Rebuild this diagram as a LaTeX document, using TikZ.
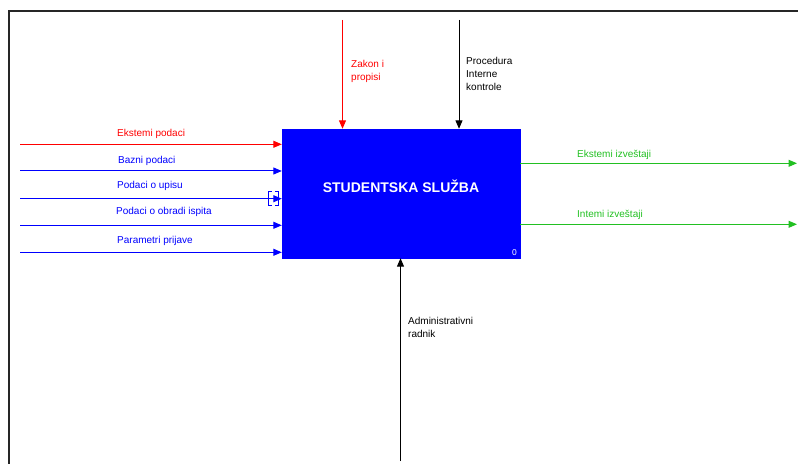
\documentclass[tikz,border=0pt]{standalone}
\usepackage{fontspec}
\setmainfont{Liberation Sans}
\usetikzlibrary{arrows.meta}
\definecolor{ctrlred}{RGB}{255,0,0}
\definecolor{inblue}{RGB}{0,0,255}
\definecolor{outgreen}{RGB}{34,192,34}
\begin{document}
\begin{tikzpicture}[x=1bp,y=-1bp,
  lbl/.style={inner sep=0pt,font=\fontsize{10bp}{13bp}\selectfont},
  flow/.style={line width=1bp,-{Triangle[length=8.5bp,width=7bp]}},
  activity/.style={draw=inblue,fill=inblue,minimum width=238bp,minimum height=129bp,inner sep=0pt}]
  \useasboundingbox (0,0) rectangle (798,464);
  % page frame (top and left edges only)
  \draw[line width=2bp,black!85] (8.5,464) -- (8.5,11.5) -- (798,11.5);

  % activity box
  \node[activity] (sb) at (401,193.5) {};
  \node[inner sep=0pt,text=white,font=\fontsize{14bp}{16bp}\selectfont\bfseries] (sbtitle) at (401,186.5) {STUDENTSKA SLUŽBA};
  \node[lbl,text=white,anchor=base east,font=\fontsize{8.5bp}{10bp}\selectfont] (sbnum) at (517,255.5) {0};

  % inputs
  \coordinate (i1) at (20,144.3);
  \coordinate (i2) at (20,171);
  \coordinate (i3) at (20,198.7);
  \coordinate (i4) at (20,225.3);
  \coordinate (i5) at (20,252.3);
  \draw[flow,ctrlred] (i1) -- (i1 -| sb.west);
  \draw[flow,inblue] (i2) -- (i2 -| sb.west);
  \draw[flow,inblue] (i3) -- (i3 -| sb.west);
  \draw[flow,inblue] (i4) -- (i4 -| sb.west);
  \draw[flow,inblue] (i5) -- (i5 -| sb.west);
  \node[lbl,anchor=base west,text=ctrlred] (l1) at (117,136.5) {Ekstemi podaci};
  \node[lbl,anchor=base west,text=inblue] (l2) at (118,164) {Bazni podaci};
  \node[lbl,anchor=base west,text=inblue] (l3) at (117,188.5) {Podaci o upisu};
  \node[lbl,anchor=base west,text=inblue] (l4) at (116,215) {Podaci o obradi ispita};
  \node[lbl,anchor=base west,text=inblue] (l5) at (117,243.5) {Parametri prijave};
  % tunnel brackets on the third input
  \draw[inblue,line width=1bp] (271.5,191.5) -- (268.5,191.5) -- (268.5,205.5) -- (271.5,205.5)
                               (275,191.5) -- (278,191.5) -- (278,205.5) -- (275,205.5);

  % controls (base anchor sits on the last line)
  \coordinate (c1) at (342.5,20);
  \coordinate (c2) at (459,20);
  \draw[flow,ctrlred] (c1) -- (c1 |- sb.north);
  \draw[flow,black] (c2) -- (c2 |- sb.north);
  \node[lbl,anchor=base west,align=left,text=ctrlred] (lc1) at (351,81) {Zakon i\\propisi};
  \node[lbl,anchor=base west,align=left,text=black] (lc2) at (466,90.5) {Procedura\\Interne\\kontrole};

  % outputs
  \coordinate (o1) at (797,163.3);
  \coordinate (o2) at (797,224.3);
  \draw[flow,outgreen] (o1 -| sb.east) -- (o1);
  \draw[flow,outgreen] (o2 -| sb.east) -- (o2);
  \node[lbl,anchor=base west,text=outgreen] (lo1) at (577,157.5) {Ekstemi izveštaji};
  \node[lbl,anchor=base west,text=outgreen] (lo2) at (577,218) {Intemi izveštaji};

  % mechanism
  \coordinate (m1) at (400.5,461);
  \draw[flow,black] (m1) -- (m1 |- sb.south);
  \node[lbl,anchor=base west,align=left,text=black] (lm1) at (408,338) {Administrativni\\radnik};
\end{tikzpicture}
\end{document}
